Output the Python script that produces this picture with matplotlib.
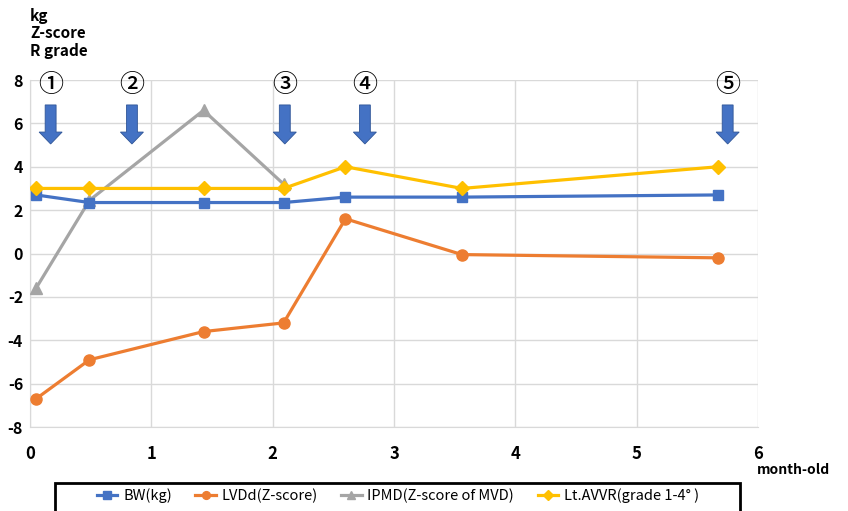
import matplotlib
matplotlib.use("Agg")
import matplotlib.pyplot as plt
from matplotlib.patches import Rectangle, FancyArrow

plt.rcParams['font.family'] = ['Noto Sans CJK JP', 'DejaVu Sans']

# ---- data ----
months = [0.05, 0.49, 1.43, 2.09, 2.6, 3.56, 5.67]
bw = [2.7, 2.35, 2.35, 2.35, 2.6, 2.6, 2.7]
lvdd = [-6.7, -4.9, -3.6, -3.2, 1.6, -0.05, -0.2]
ipmd_months = [0.05, 0.49, 1.43, 2.09]
ipmd = [-1.6, 2.45, 6.6, 3.2]
avvr = [3, 3, 3, 3, 4, 3, 4]

event_labels = ['①', '②', '③', '④', '⑤']
event_months = [0.17, 0.84, 2.1, 2.76, 5.75]

x_ticks = [0, 1, 2, 3, 4, 5, 6]
y_ticks = [-8, -6, -4, -2, 0, 2, 4, 6, 8]

BLUE = '#4472C4'
ORANGE = '#ED7D31'
GRAY = '#A5A5A5'
YELLOW = '#FFC000'

fig = plt.figure(figsize=(8.48, 5.11), dpi=100)
ax = fig.add_axes([30/848, 1-427/511, (758-30)/848, (427-80)/511])

ax.plot(months, bw, color=BLUE, lw=2.3, marker='s', ms=7.5, label='BW(kg)', zorder=5)
ax.plot(months, lvdd, color=ORANGE, lw=2.3, marker='o', ms=8, label='LVDd(Z-score)', zorder=4)
ax.plot(ipmd_months, ipmd, color=GRAY, lw=2.3, marker='^', ms=8, label='IPMD(Z-score of MVD)', zorder=3)
ax.plot(months, avvr, color=YELLOW, lw=2.3, marker='D', ms=7, label='Lt.AVVR(grade 1-4° )', zorder=6)

ax.set_xlim(0, 6)
ax.set_ylim(-8, 8)
ax.set_xticks(x_ticks)
ax.set_yticks(y_ticks)
ax.set_xticklabels([str(t) for t in x_ticks], fontsize=12, fontweight='bold')
ax.set_yticklabels([str(t) for t in y_ticks], fontsize=11.5, fontweight='bold')
ax.tick_params(length=0)
ax.tick_params(axis='y', pad=5)
ax.tick_params(axis='x', pad=13)
ax.grid(True, color='#d9d9d9', lw=1)
ax.set_axisbelow(True)
for s in ['top', 'right']:
    ax.spines[s].set_visible(False)
for s in ['left', 'bottom']:
    ax.spines[s].set_color('#d9d9d9')

# event markers
for lab, m in zip(event_labels, event_months):
    ax.text(m, 7.75, lab, ha='center', va='center', fontsize=18, fontweight='medium',
            family=['Noto Sans CJK JP', 'DejaVu Sans'], clip_on=False)
    ax.add_patch(FancyArrow(m, 6.85, 0, -1.8, width=0.09, head_width=0.19,
                            head_length=0.55, length_includes_head=True,
                            color=BLUE, ec='#2F5597', lw=0.6, zorder=7))

fig.text(30/848, 1-8/511, 'kg\nZ-score\nR grade', ha='left', va='top',
         fontsize=11, fontweight='bold', linespacing=1.1)
fig.text(757/848, 1-470/511, 'month-old', ha='left', va='center',
         fontsize=10, fontweight='bold')

# legend
fig.patches.append(Rectangle((55/848, -0.05), (740-55)/848, (1-483/511)+0.05,
                             transform=fig.transFigure, fill=False,
                             ec='black', lw=2, clip_on=False))
handles, labels = ax.get_legend_handles_labels()
fig.legend(handles, labels, loc='center', bbox_to_anchor=(398/848, 1-496/511),
           ncol=4, frameon=False, fontsize=10.5, handlelength=1.4,
           handletextpad=0.4, columnspacing=1.6, markerscale=0.7)

fig.savefig('out.png', dpi=100)
